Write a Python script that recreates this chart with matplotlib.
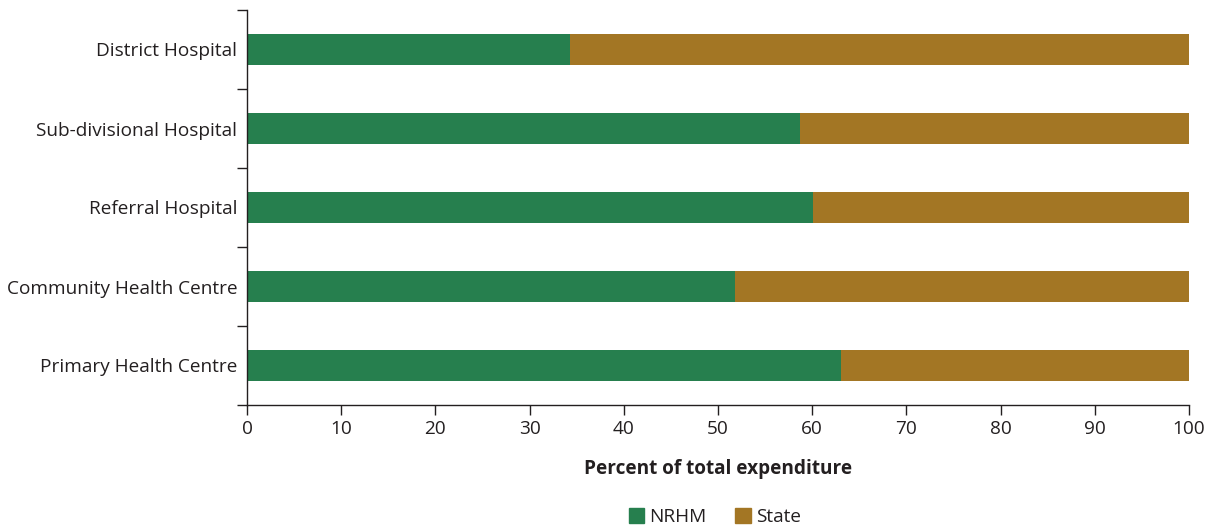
import matplotlib
matplotlib.use("Agg")
import matplotlib.pyplot as plt
from matplotlib.patches import Patch
from matplotlib.ticker import FixedLocator, NullFormatter

categories = ["District Hospital", "Sub-divisional Hospital", "Referral Hospital",
              "Community Health Centre", "Primary Health Centre"]
nrhm = [34.3, 58.7, 60.1, 51.8, 63.1]
state = [100 - v for v in nrhm]
xticks = [0, 10, 20, 30, 40, 50, 60, 70, 80, 90, 100]

GREEN = "#267f4e"
BROWN = "#a37624"
TEXT = "#231f20"
FS = 13.7

plt.rcParams["font.family"] = ["Open Sans", "DejaVu Sans"]

fig = plt.figure(figsize=(12.10, 5.29), dpi=100)
ax = fig.add_axes([247 / 1210, 124 / 529, 942 / 1210, 395 / 529])

ypos = list(range(len(categories)))
ax.barh(ypos, nrhm, height=0.39, color=GREEN, label="NRHM")
ax.barh(ypos, state, left=nrhm, height=0.39, color=BROWN, label="State")

ax.set_ylim(len(categories) - 0.5, -0.5)
ax.set_xlim(0, 100)
ax.set_xticks(xticks)
ax.set_yticks(ypos)
ax.set_yticklabels(categories)
ax.tick_params(axis="y", which="major", length=0, pad=7, labelsize=FS, labelcolor=TEXT)
ax.yaxis.set_minor_locator(FixedLocator([i - 0.5 for i in range(len(categories) + 1)]))
ax.yaxis.set_minor_formatter(NullFormatter())
ax.tick_params(axis="y", which="minor", length=7, width=1, color=TEXT)
ax.tick_params(axis="x", length=7, width=1, color=TEXT, labelsize=FS, labelcolor=TEXT, pad=4)

for side in ["top", "right"]:
    ax.spines[side].set_visible(False)
for side in ["left", "bottom"]:
    ax.spines[side].set_color(TEXT)
    ax.spines[side].set_linewidth(1)

ax.set_xlabel("Percent of total expenditure", fontsize=FS, fontweight="bold",
              color=TEXT, labelpad=15)

handles = [Patch(color=GREEN, label="NRHM"), Patch(color=BROWN, label="State")]
fig.legend(handles=handles, loc="center", bbox_to_anchor=(715 / 1210, 1 - 517 / 529),
           ncol=2, frameon=False, fontsize=FS, handlelength=0.8, handleheight=0.8,
           columnspacing=1.5, handletextpad=0.3, labelcolor=TEXT)

fig.savefig("out.png", dpi=100)
